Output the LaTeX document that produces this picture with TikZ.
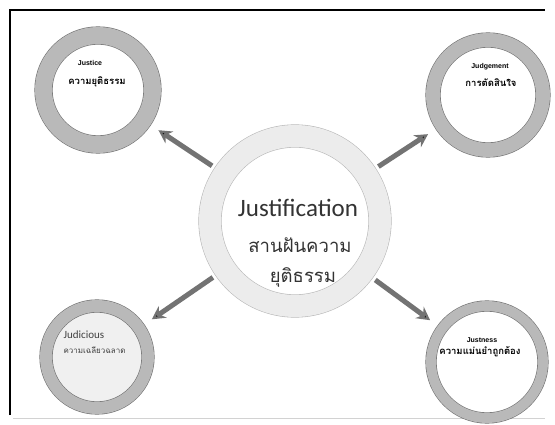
\documentclass[tikz,border=0pt]{standalone}
\usepackage{fontspec}
\setmainfont{Carlito}
\newfontfamily\thaifont[Script=Thai]{Loma}
\newfontfamily\labelfont{Liberation Sans}
\usetikzlibrary{arrows.meta}

\begin{document}
\begin{tikzpicture}[x = 1pt, y = -1pt, % one unit per pixel, y going down
                > = {Stealth[length = 13pt, width = 14pt]}, % arrow head style
                shorten < = 3pt, shorten > = 9pt % gap between arrow and ring
            ]

            \tikzstyle{ring}=[circle, inner sep = 0pt, draw = black!55,
            line width = 0.6pt, double = gray!55, fill = white]
            \tikzstyle{link}=[->, line width = 5pt, draw = black!55]
            \tikzstyle{small label}=[font = \labelfont\bfseries\fontsize{7}{8}\selectfont]
            \tikzstyle{thai label}=[font = \thaifont\bfseries\fontsize{9.5}{11}\selectfont]

            \useasboundingbox (0,0) rectangle (555,425);
            \draw[line width = 1.2pt] (10,418) -- (10,10) -- (554,10);
            \draw[gray!35] (10,418) -- (554,418);

            % the five rings
            \node (justification) [ring, minimum size = 170pt, double distance = 22pt,
            outer sep = 11.6pt, draw = gray!55, double = gray!15] at (295,221) {};
            \node (justice) [ring, minimum size = 109pt, double distance = 17pt,
            outer sep = 9.1pt] at (98,90) {};
            \node (judgement) [ring, minimum size = 110pt, double distance = 14pt,
            outer sep = 7.6pt] at (488,95) {};
            \node (justness) [ring, minimum size = 112pt, double distance = 10pt,
            outer sep = 5.6pt] at (487,362) {};
            \node (judicious) [ring, minimum size = 102pt, double distance = 12pt,
            outer sep = 6.6pt, fill = gray!12] at (97,357) {};

            % texts
            \node (justification-en) [font = \fontsize{25}{30}\selectfont,
            text = black!80] at (298,208) {Justification};
            \node (justification-th1) [font = \thaifont\fontsize{18.5}{22}\selectfont,
            text = black!80] at (300,245) {สานฝันความ};
            \node (justification-th2) [font = \thaifont\fontsize{18.5}{22}\selectfont,
            text = black!80] at (303,277) {ยุติธรรม};

            \node (justice-en) [small label] at (90,63) {Justice};
            \node (justice-th) [thai label] at (97,82) {ความยุติธรรม};
            \node (judgement-en) [small label] at (490,67) {Judgement};
            \node (judgement-th) [thai label] at (491,83) {การตัดสินใจ};
            \node (justness-en) [small label] at (482,340) {Justness};
            \node (justness-th) [thai label] at (480,352) {ความแม่นยำถูกต้อง};
            \node (judicious-en) [anchor = west, font = \fontsize{11}{13}\selectfont,
            text = black!75] at (60,335) {Judicious};
            \node (judicious-th) [anchor = west, font = \thaifont\fontsize{8}{10}\selectfont,
            text = black!75] at (60,350) {ความเฉลียวฉลาด};

            \path[link] (justification) edge (justice); \path[link] (justification)
            edge (judgement); \path[link] (justification) edge (justness);
            \path[link] (justification) edge (judicious);
        \end{tikzpicture}
\end{document}
